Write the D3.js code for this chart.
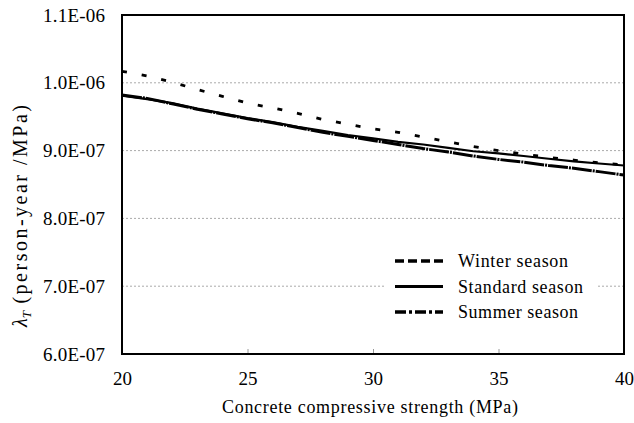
<!DOCTYPE html>
<html>
<head>
<meta charset="utf-8">
<script src="https://cdn.jsdelivr.net/npm/d3@7"></script>
<style>
  html, body { margin: 0; padding: 0; background: #fff; }
  svg { display: block; }
  svg text { font-family: "Times New Roman", "Liberation Serif", "DejaVu Serif", serif; fill: #000; }
</style>
</head>
<body>
<svg id="chart" width="634" height="423"></svg>
<script>
// Concrete compressive strength (MPa)
const strength = [20, 21, 22, 23, 24, 25, 26, 27, 28, 29, 30,
                  31, 32, 33, 34, 35, 36, 37, 38, 39, 40];

// Failure rate λT (person-year / MPa), by season
const winter   = [1.017e-6, 1.010e-6, 1.001e-6, 0.990e-6, 0.980e-6, 0.970e-6, 0.963e-6,
                  0.955e-6, 0.946e-6, 0.939e-6, 0.932e-6, 0.927e-6, 0.920e-6, 0.913e-6,
                  0.906e-6, 0.900e-6, 0.895e-6, 0.890e-6, 0.886e-6, 0.882e-6, 0.879e-6];
const standard = [0.981e-6, 0.976e-6, 0.970e-6, 0.962e-6, 0.955e-6, 0.948e-6, 0.942e-6,
                  0.935e-6, 0.929e-6, 0.923e-6, 0.918e-6, 0.913e-6, 0.909e-6, 0.904e-6,
                  0.899e-6, 0.896e-6, 0.892e-6, 0.888e-6, 0.884e-6, 0.881e-6, 0.878e-6];
const summer   = [0.982e-6, 0.977e-6, 0.969e-6, 0.961e-6, 0.954e-6, 0.947e-6, 0.941e-6,
                  0.934e-6, 0.927e-6, 0.921e-6, 0.915e-6, 0.909e-6, 0.903e-6, 0.898e-6,
                  0.892e-6, 0.887e-6, 0.883e-6, 0.878e-6, 0.874e-6, 0.869e-6, 0.864e-6];

const seriesNames = ["Winter season", "Standard season", "Summer season"];

const xTicks = [20, 25, 30, 35, 40];
const yTicks = [6e-7, 7e-7, 8e-7, 9e-7, 1.0e-6, 1.1e-6];
const yTickLabels = ["6.0E-07", "7.0E-07", "8.0E-07", "9.0E-07", "1.0E-06", "1.1E-06"];

const FONT = '"Times New Roman", "Liberation Serif", "DejaVu Serif", serif';

const svg = d3.select("#chart");
const plot = { left: 122, right: 624, top: 15, bottom: 354 };

const x = d3.scaleLinear().domain([20, 40]).range([plot.left, plot.right]);
const y = d3.scaleLinear().domain([6e-7, 1.1e-6]).range([plot.bottom, plot.top]);

// horizontal dotted grid lines
svg.append("g")
  .selectAll("line")
  .data(yTicks.slice(1, -1))
  .join("line")
  .attr("x1", plot.left).attr("x2", plot.right)
  .attr("y1", d => y(d)).attr("y2", d => y(d))
  .attr("stroke", "#aaa").attr("stroke-width", 1)
  .attr("stroke-dasharray", "2,2");

// x axis: inward ticks, labels below
const xAxis = d3.axisBottom(x)
  .tickValues(xTicks)
  .tickSizeInner(-5).tickSizeOuter(0)
  .tickPadding(18)
  .tickFormat(d3.format("d"));
const gx = svg.append("g")
  .attr("transform", `translate(0,${plot.bottom})`)
  .call(xAxis)
  .attr("font-family", FONT);
gx.select(".domain").remove();
gx.selectAll(".tick line").attr("stroke", "#999");
gx.selectAll(".tick text")
  .attr("font-size", 19)
  .attr("fill", "#000");

// y axis: labels on the left
const yAxis = d3.axisLeft(y)
  .tickValues(yTicks)
  .tickSize(0)
  .tickPadding(17)
  .tickFormat((d, i) => yTickLabels[i]);
const gy = svg.append("g")
  .attr("transform", `translate(${plot.left},0)`)
  .call(yAxis)
  .attr("font-family", FONT);
gy.select(".domain").remove();
gy.selectAll(".tick text")
  .attr("font-size", 19)
  .attr("textLength", 62)
  .attr("lengthAdjust", "spacing")
  .attr("fill", "#000");

// series lines
const points = vals => strength.map((s, i) => [s, vals[i]]);
const line = d3.line().x(d => x(d[0])).y(d => y(d[1]));

const styles = [
  { data: winter,   width: 2.8, dash: "5,15",        legendDash: "9,4" },
  { data: standard, width: 2.2, dash: null,          legendDash: null },
  { data: summer,   width: 3.0, dash: "20,1,2,1",    legendDash: "11,3,3,3" }
];

svg.append("g")
  .selectAll("path")
  .data(styles)
  .join("path")
  .attr("d", s => line(points(s.data)))
  .attr("fill", "none")
  .attr("stroke", "#000")
  .attr("stroke-width", s => s.width)
  .attr("stroke-dasharray", s => s.dash);

// plot frame
svg.append("rect")
  .attr("x", plot.left).attr("y", plot.top)
  .attr("width", plot.right - plot.left)
  .attr("height", plot.bottom - plot.top)
  .attr("fill", "none")
  .attr("stroke", "#000")
  .attr("stroke-width", 2);

// legend
const legend = svg.append("g").attr("transform", "translate(386,248)")
  .attr("font-family", FONT);
legend.append("rect")
  .attr("x", 0).attr("y", 0).attr("width", 210).attr("height", 76)
  .attr("fill", "#fff");
const legendWidths = [110, 125, 120];
const rows = legend.selectAll("g.row")
  .data(styles)
  .join("g")
  .attr("class", "row")
  .attr("transform", (d, i) => `translate(0,${13 + i * 25.5})`);
rows.append("line")
  .attr("x1", 9).attr("x2", 57).attr("y1", 0).attr("y2", 0)
  .attr("stroke", "#000")
  .attr("stroke-width", d => d.width + 0.6)
  .attr("stroke-dasharray", d => d.legendDash);
rows.append("text")
  .attr("x", 72).attr("y", 6)
  .attr("font-size", 18)
  .attr("textLength", (d, i) => legendWidths[i])
  .attr("lengthAdjust", "spacing")
  .text((d, i) => seriesNames[i]);

// axis titles
svg.append("text")
  .attr("x", 370)
  .attr("y", 413)
  .attr("text-anchor", "middle")
  .attr("font-size", 18)
  .attr("textLength", 296)
  .attr("lengthAdjust", "spacing")
  .text("Concrete compressive strength (MPa)");

const yTitle = svg.append("text")
  .attr("transform", "translate(27,216) rotate(-90)")
  .attr("text-anchor", "middle")
  .attr("font-size", 20);
yTitle.append("tspan").attr("font-style", "italic").text("λ");
yTitle.append("tspan").attr("font-style", "italic").attr("font-size", 13)
  .attr("dy", 4).text("T");
yTitle.append("tspan").attr("dy", -4)
  .attr("textLength", 206).attr("lengthAdjust", "spacing")
  .text(" (person-year /MPa)");
</script>
</body>
</html>
